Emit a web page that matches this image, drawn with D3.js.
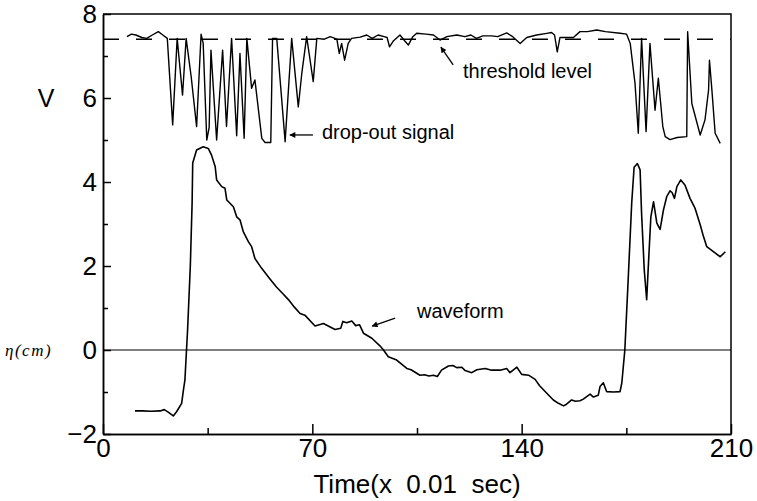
<!DOCTYPE html>
<html>
<head>
<meta charset="utf-8">
<script src="https://cdn.jsdelivr.net/npm/d3@7/dist/d3.min.js"></script>
<style>
body{margin:0;background:#fff;}
svg{display:block;}
.axis text{font-family:"Liberation Sans",Arial,sans-serif;font-size:26px;fill:#000;}
.axis line,.axis path{stroke:#000;stroke-width:1.5;}
.note{font-family:"Liberation Sans",Arial,sans-serif;font-size:20px;}
</style>
</head>
<body>
<div id="chart"></div>
<script>
var w=757;
var h=501;

// drop-out signal (V)
var tSig=[8,9.5,11,13,14.6,16.5,18.5,20,21.5,23.3,24.8,26.6,27.8,29.5,31.3,32.8,33.5,34.7,35.5,36.1,38,40,41.3,43,44.7,45.8,47.2,48.1,49.7,50.8,53.1,54.2,56.1,56.7,58.1,60.9,63.1,65.3,66.5,68.1,70.3,71.5,74,76,78.2,79,79.8,80.8,82,83.1,86,88.2,90,92,94,95,95.8,97,99.3,101,102.1,103.5,104.9,108,110.5,112.7,115,118.3,121,123,124.9,127,130,132,135,137,139.5,141.7,145,148.4,150,151,151.9,152.8,155,157.3,159.5,162,165.1,168,172.9,175.1,176.3,177.9,179,180.1,181.6,182.9,184.6,185.7,187.2,188,189.6,192,195.2,195.5,196.9,199.7,201.3,202.5,202.8,203.6,204.7,206.4];
var vSig=[7.46,7.52,7.5,7.44,7.42,7.5,7.58,7.5,7.42,5.36,7.42,6.07,7.42,6.5,5.32,7.52,7.3,5.0,5.3,7.14,5.0,7.14,5.32,7.42,5.1,7.06,5.04,7.42,6.23,6.43,5.04,4.94,4.94,7.42,7.42,4.96,7.42,5.79,6.6,7.46,6.39,7.42,7.4,7.46,7.4,7.06,7.3,6.9,7.3,7.42,7.45,7.5,7.42,7.5,7.46,7.44,7.22,7.35,7.5,7.35,7.26,7.45,7.54,7.52,7.5,7.38,7.46,7.5,7.46,7.5,7.42,7.48,7.48,7.46,7.55,7.46,7.3,7.44,7.5,7.54,7.56,7.5,7.1,7.44,7.44,7.44,7.58,7.58,7.62,7.58,7.54,7.52,7.3,6.35,5.16,7.42,5.2,7.3,5.71,6.47,5.32,5.08,5.01,5.06,5.08,7.58,5.87,5.12,5.48,6.19,6.9,6.2,5.16,4.92];

// surface elevation eta (cm)
var tWave=[10.7,13,16,19.1,20.5,21.8,23.5,24.6,26.3,26.9,27.4,28.3,29.2,29.8,30,31.3,33.5,35.2,36.3,37.5,38,39.7,40.8,41.4,43.6,44.7,45.8,46.9,48.6,49.7,50.8,53,55.5,58,60,62,64,65.9,67.5,70.9,73.7,77.6,79.5,80.2,81.5,83.2,84.5,85.8,87.1,89.9,92.6,93.8,95.4,98.2,101.6,103,106,107.5,109,110.5,111.8,113.2,115.5,117,118.3,120,121.1,123.3,125,127.8,130,132.8,135,136.1,138.4,140,142.3,144.5,146,148.4,150.6,152.3,154,155,156.7,158,159.5,160.6,162.9,164,165.6,166.2,167.3,168.4,170.7,172.9,173.5,174.5,175.5,176.8,177.6,178.7,179.6,180.1,181,181.8,182.5,183.2,184.1,185.2,186.3,187.4,188.5,189.6,190.3,191.1,191.9,193.2,194.6,196.3,198,199.7,200.8,201.9,204.1,206.4,208.1];
var etaWave=[-1.45,-1.45,-1.46,-1.45,-1.42,-1.48,-1.57,-1.47,-1.27,-0.95,-0.71,0.5,2.0,3.5,4.45,4.76,4.84,4.8,4.64,4.37,4.05,3.89,3.85,3.57,3.41,3.17,3.1,2.82,2.58,2.46,2.18,1.95,1.72,1.5,1.35,1.2,1.02,0.87,0.83,0.57,0.63,0.49,0.52,0.68,0.65,0.69,0.58,0.6,0.4,0.28,0.1,0,-0.16,-0.24,-0.44,-0.47,-0.6,-0.59,-0.62,-0.6,-0.63,-0.48,-0.38,-0.37,-0.42,-0.41,-0.49,-0.54,-0.47,-0.44,-0.48,-0.48,-0.44,-0.54,-0.41,-0.58,-0.6,-0.7,-0.85,-1.03,-1.19,-1.27,-1.33,-1.29,-1.19,-1.22,-1.21,-1.17,-1.05,-1.12,-1.08,-0.87,-0.78,-0.99,-1.0,-0.99,-0.78,0,1.5,3.5,4.35,4.44,4.29,3.25,1.9,1.2,2.2,3.17,3.53,3.02,2.87,3.33,3.65,3.79,3.75,3.61,3.89,4.05,3.93,3.61,3.37,2.98,2.7,2.46,2.34,2.22,2.34];

var threshold=7.4;
var xMajor=[0,70,140,210];
var xMinor=[35,105,175];
var yMajor=[-2,0,2,4,6,8];
var yMinor=[-1,1,3,5,7];

// annotations: text anchor and arrow tail/head in data units
var noteText=["threshold level","drop-out signal","waveform"];
var noteAt=[[120.4,6.48],[73.2,5.02],[105,0.76]];
var arrowFrom=[[117.1,6.79],[70.2,5.12],[97.7,0.76]];
var arrowTo=[[113.0,7.21],[62.5,5.12],[90.0,0.57]];

var xScale=d3.scaleLinear().domain([0,210]).range([103,731]);
var yScale=d3.scaleLinear().domain([-2,8]).range([434,14]);

var svg=d3.select("#chart").append("svg")
  .attr("width",w)
  .attr("height",h);

function drawAxes(){
  //bottom axis
  svg.append("g")
    .attr("class","axis")
    .attr("transform","translate(0,"+yScale(-2)+")")
    .call(d3.axisBottom(xScale).tickValues(xMajor).tickSizeInner(-10).tickSizeOuter(0).tickPadding(5));
  svg.append("g")
    .attr("class","axis")
    .attr("transform","translate(0,"+yScale(-2)+")")
    .call(d3.axisBottom(xScale).tickValues(xMinor).tickSizeInner(-6).tickSizeOuter(0).tickFormat(""));
  //left axis
  svg.append("g")
    .attr("class","axis")
    .attr("transform","translate("+xScale(0)+",0)")
    .call(d3.axisLeft(yScale).tickValues(yMajor).tickSizeInner(-8).tickSizeOuter(0).tickPadding(6));
  svg.append("g")
    .attr("class","axis")
    .attr("transform","translate("+xScale(0)+",0)")
    .call(d3.axisLeft(yScale).tickValues(yMinor).tickSizeInner(-5).tickSizeOuter(0).tickFormat(""));
  //top + right border
  svg.append("path")
    .attr("d","M"+xScale(0)+","+yScale(8)+"H"+xScale(210)+"V"+yScale(-2))
    .attr("fill","none")
    .attr("stroke","#000")
    .attr("stroke-width",1.5);
  //zero line
  svg.append("line")
    .attr("x1",xScale(0)).attr("x2",xScale(210))
    .attr("y1",yScale(0)).attr("y2",yScale(0))
    .attr("stroke","#000")
    .attr("stroke-width",1.1);

  svg.append("text")
    .attr("x",xScale(105))
    .attr("y",493)
    .attr("text-anchor","middle")
    .style("font-family","Liberation Sans, Arial, sans-serif")
    .style("font-size","26px")
    .style("white-space","pre")
    .text("Time(x  0.01  sec)");

  svg.append("text")
    .attr("x",46)
    .attr("y",yScale(6))
    .attr("dy","0.35em")
    .attr("text-anchor","middle")
    .style("font-family","Liberation Sans, Arial, sans-serif")
    .style("font-size","25px")
    .text("V");

  svg.append("text")
    .attr("x",5)
    .attr("y",yScale(0)+6)
    .style("font-family","Liberation Serif, serif")
    .style("font-style","italic")
    .style("font-size","17px")
    .style("letter-spacing","1.5px")
    .text("η(cm)");
}

function drawLines(){
  var line=d3.line()
    .x(function(d){return xScale(d[0]);})
    .y(function(d){return yScale(d[1]);});

  //threshold level
  svg.append("line")
    .attr("x1",xScale(0)).attr("x2",xScale(210))
    .attr("y1",yScale(threshold)).attr("y2",yScale(threshold))
    .attr("stroke","#000")
    .attr("stroke-width",1.6)
    .attr("stroke-dasharray","16,17");

  var sig=tSig.map(function(t,i){return [t,vSig[i]];});
  svg.append("path")
    .datum(sig)
    .attr("d",line)
    .attr("fill","none")
    .attr("stroke","#000")
    .attr("stroke-width",1.4)
    .attr("stroke-linejoin","round");

  var wave=tWave.map(function(t,i){return [t,etaWave[i]];});
  svg.append("path")
    .datum(wave)
    .attr("d",line)
    .attr("fill","none")
    .attr("stroke","#000")
    .attr("stroke-width",1.6)
    .attr("stroke-linejoin","round");
}

function drawNotes(){
  svg.append("defs").append("marker")
    .attr("id","head")
    .attr("viewBox","0 0 10 10")
    .attr("refX",9).attr("refY",5)
    .attr("markerWidth",7).attr("markerHeight",6)
    .attr("markerUnits","userSpaceOnUse")
    .attr("orient","auto")
    .append("path")
    .attr("d","M0,0L10,5L0,10Z")
    .attr("fill","#000");

  for(var i=0;i<noteText.length;i++){
    svg.append("text")
      .attr("class","note")
      .attr("x",xScale(noteAt[i][0]))
      .attr("y",yScale(noteAt[i][1]))
      .text(noteText[i]);
    svg.append("line")
      .attr("x1",xScale(arrowFrom[i][0])).attr("y1",yScale(arrowFrom[i][1]))
      .attr("x2",xScale(arrowTo[i][0])).attr("y2",yScale(arrowTo[i][1]))
      .attr("stroke","#000")
      .attr("stroke-width",1.3)
      .attr("marker-end","url(#head)");
  }
}

drawAxes();
drawLines();
drawNotes();
</script>
</body>
</html>
